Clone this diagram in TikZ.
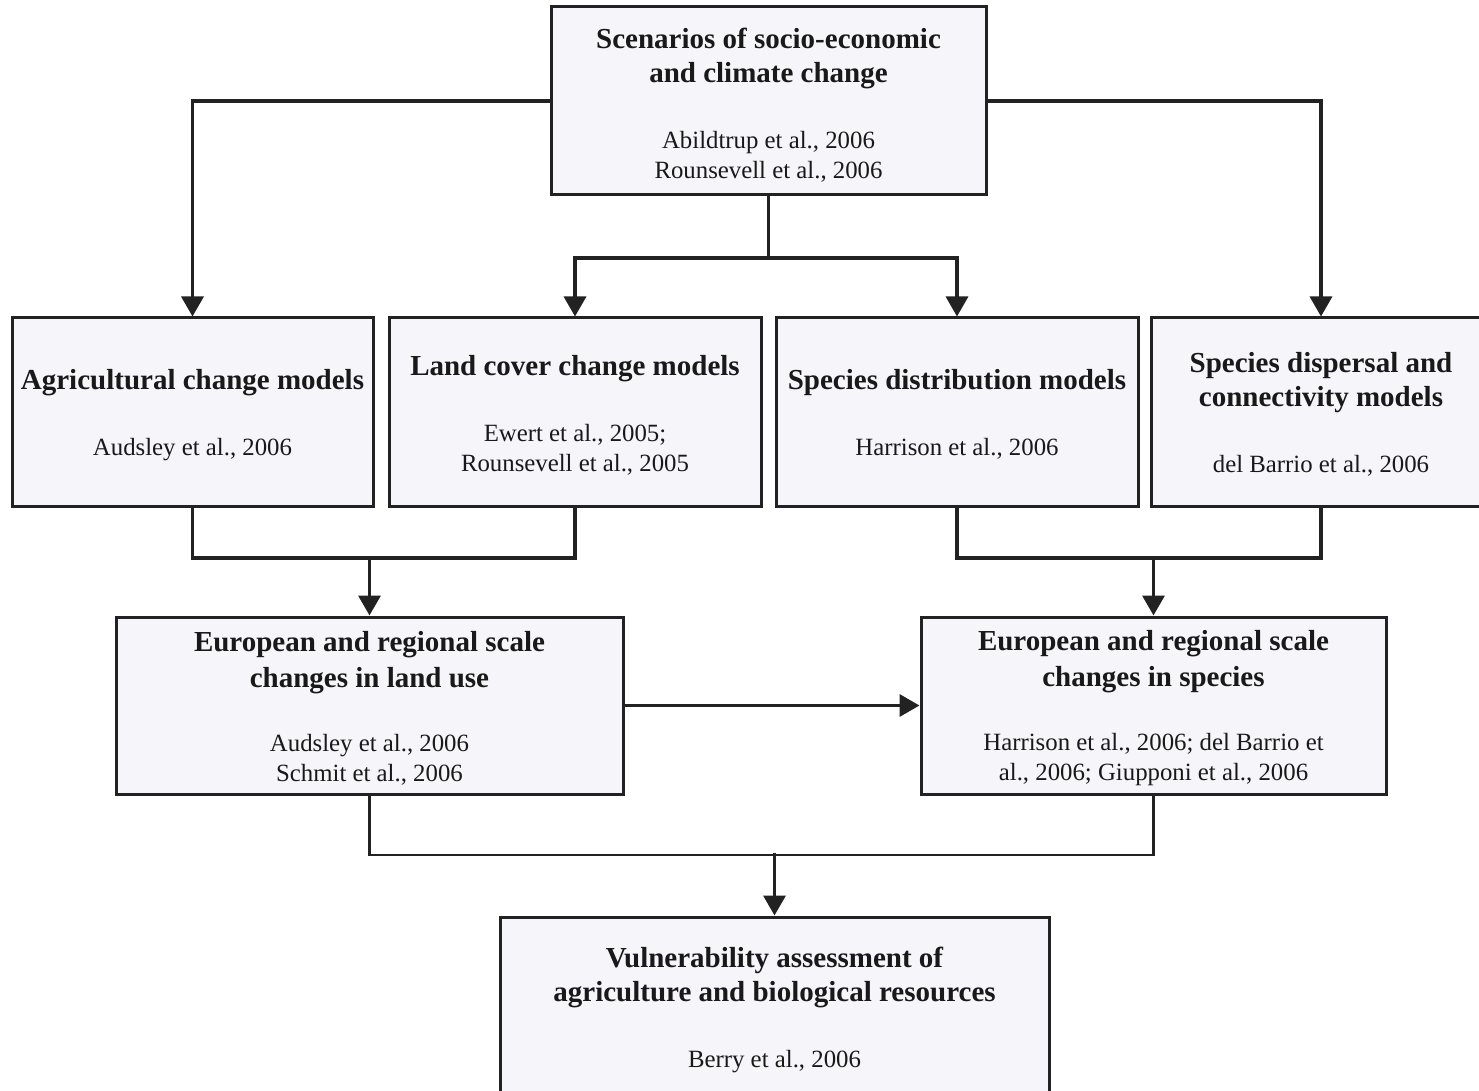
\documentclass[tikz,border=0pt]{standalone}
\usepackage{fontspec}
\setmainfont{Liberation Serif}
\usetikzlibrary{arrows.meta}
\definecolor{boxfill}{HTML}{F5F5FA}
\definecolor{ink}{HTML}{222222}
\newcommand{\tf}{\fontsize{14.5}{17}\selectfont\bfseries}
\newcommand{\cf}{\fontsize{12.4}{15}\selectfont}
\begin{document}
\begin{tikzpicture}[x=0.5pt,y=-0.5pt,
  box/.style={draw=ink, fill=boxfill, line width=1.5pt, inner sep=0pt},
  txt/.style={inner sep=0pt, align=center, text=black!90, font=\fontsize{12.4}{15}\selectfont},
  arr/.style={draw=ink, line width=1.7pt, -{Triangle[length=10pt,width=11pt]}},
  ln/.style={draw=ink, line width=1.7pt},
  thinln/.style={draw=ink, line width=1.3pt}]
\useasboundingbox (0,0) rectangle (1479,1091);
\fill[white] (0,0) rectangle (1479,1091);

% boxes
\node[box, minimum width=217.5pt, minimum height=94pt] (top) at (768.5,101) {};
\node[box, minimum width=180.5pt, minimum height=94pt] (agri) at (192.5,412) {};
\node[box, minimum width=186pt, minimum height=94pt] (lc) at (575,412) {};
\node[box, minimum width=181pt, minimum height=94pt] (sd) at (957,412) {};
\node[box, minimum width=170pt, minimum height=94pt] (disp) at (1321,412) {};
\node[box, minimum width=253.5pt, minimum height=88.5pt] (lu) at (369.5,705.5) {};
\node[box, minimum width=232.5pt, minimum height=88.5pt] (sp) at (1153.5,705.5) {};
\node[box, minimum width=274.5pt, minimum height=89pt] (bot) at (774.5,1006) {};

% texts
\node[txt] (topt) at ([yshift=-2.2pt]top.center)
  {\tf Scenarios of socio-economic\\[2pt] \tf and climate change\\[18pt]
   \cf Abildtrup et al., 2006\\ \cf Rounsevell et al., 2006};
\node[txt] (agrit) at ([yshift=-1.5pt]agri.center)
  {\tf Agricultural change models\\[18pt] \cf Audsley et al., 2006};
\node[txt] (lct) at ([yshift=-1.8pt]lc.center)
  {\tf Land cover change models\\[18pt] \cf Ewert et al., 2005;\\ \cf Rounsevell et al., 2005};
\node[txt] (sdt) at ([yshift=-1.2pt]sd.center)
  {\tf Species distribution models\\[18pt] \cf Harrison et al., 2006};
\node[txt] (dispt) at ([yshift=-1.3pt]disp.center)
  {\tf Species dispersal and\\[2pt] \tf connectivity models\\[18pt] \cf del Barrio et al., 2006};
\node[txt] (lut) at ([yshift=-1.2pt]lu.center)
  {\tf European and regional scale\\[3pt] \tf changes in land use\\[17pt]
   \cf Audsley et al., 2006\\ \cf Schmit et al., 2006};
\node[txt] (spt) at ([yshift=-1.4pt]sp.center)
  {\tf European and regional scale\\[3pt] \tf changes in species\\[17pt]
   \cf Harrison et al., 2006; del Barrio et\\ \cf al., 2006; Giupponi et al., 2006};
\node[txt] (bott) at ([yshift=-2pt]bot.center)
  {\tf Vulnerability assessment of\\[2pt] \tf agriculture and biological resources\\[18pt]
   \cf Berry et al., 2006};

% connectors
\coordinate (j1) at (768.5,258);
\coordinate (j2) at (369.5,558);
\coordinate (j3) at (1153.5,558);
\coordinate (j4) at (776,855);

\draw[arr] (top.west) -| (agri.north);
\draw[arr] (top.east) -| (disp.north);
\draw[ln] (top.south) -- (j1);
\draw[arr] (j1) -| (lc.north);
\draw[arr] (j1) -| (sd.north);

\draw[ln] (agri.south) |- (j2) -| (lc.south);
\draw[arr] (j2) -- (lu.north);
\draw[ln] (sd.south) |- (j3) -| (disp.south);
\draw[arr] (j3) -- (sp.north);

\draw[arr] (lu.east) -- (sp.west);

\draw[thinln] (lu.south) |- (j4) -| (sp.south);
\draw[arr] (j4) -- (bot.north |- j4) -- (bot.north);
\end{tikzpicture}
\end{document}
